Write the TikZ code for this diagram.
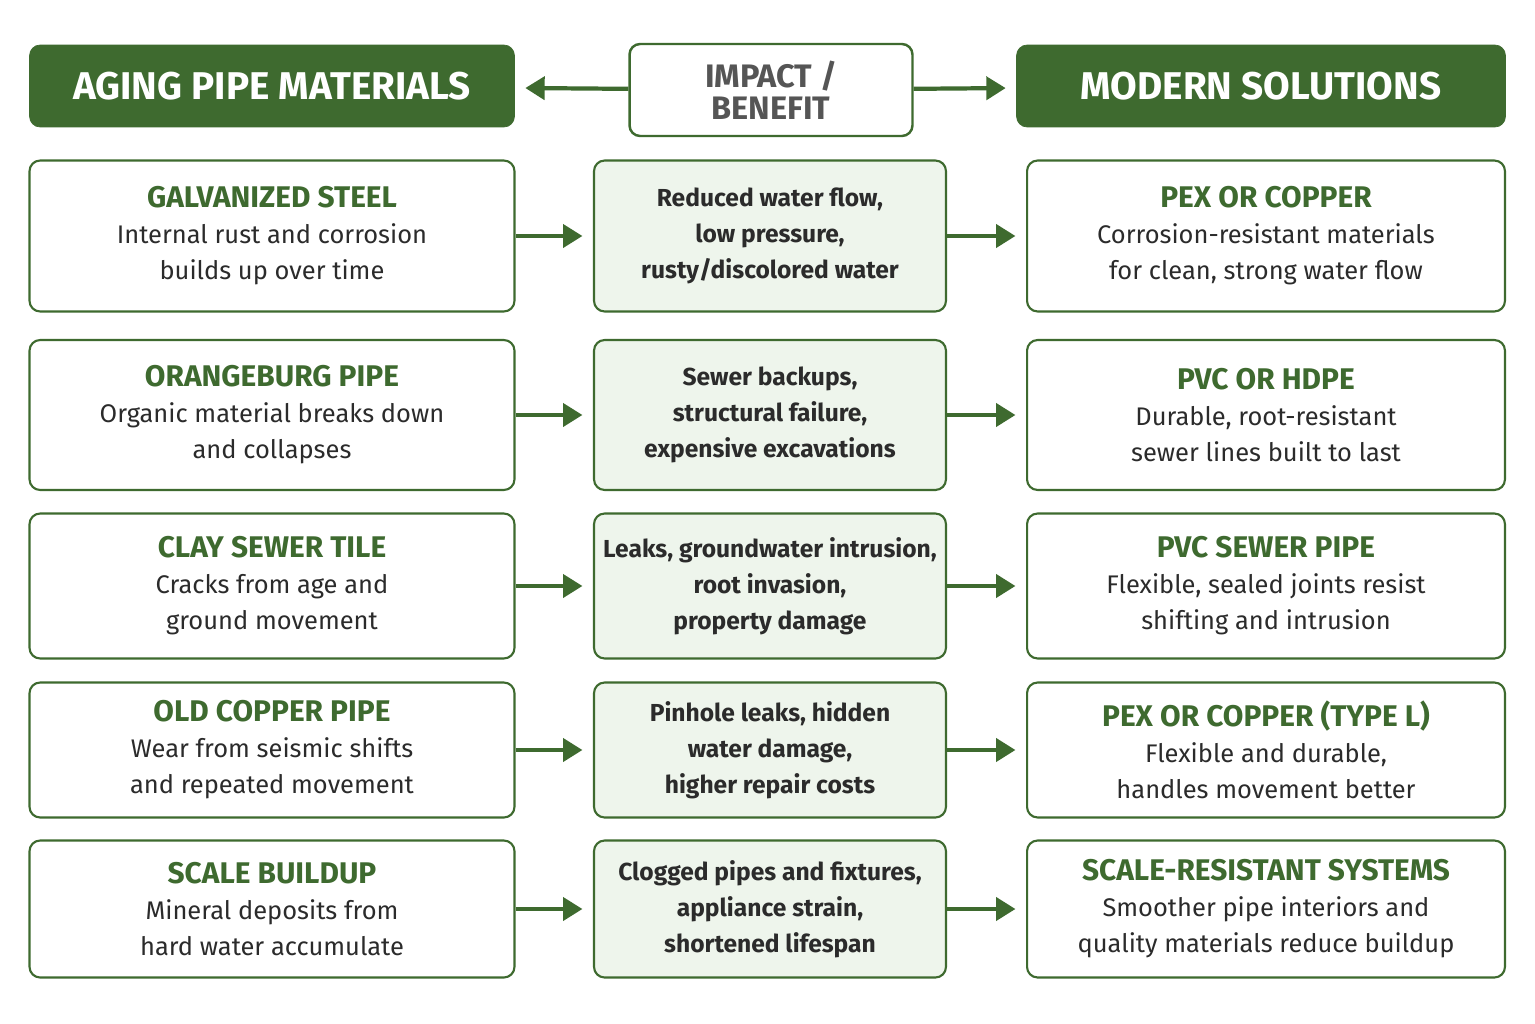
\documentclass[tikz,border=0pt]{standalone}
\usepackage{fontspec}
\setmainfont{Fira Sans}
\usetikzlibrary{arrows.meta}
\definecolor{pipegreen}{HTML}{3E6A2F}
\definecolor{palegreen}{HTML}{EEF5EC}
\definecolor{bodygray}{HTML}{2B2B2B}
\tikzset{
  header/.style={rectangle, rounded corners=6pt, fill=pipegreen, draw=pipegreen, text=white, font=\bfseries\fontsize{22}{24}\selectfont, minimum height=1.64cm},
  midheader/.style={rectangle, rounded corners=6pt, fill=white, draw=pipegreen, line width=1.4pt, text=bodygray!80, font=\bfseries\fontsize{18.5}{18}\selectfont, align=center, minimum width=5.66cm, minimum height=1.84cm},
  oldbox/.style={rectangle, rounded corners=6pt, draw=pipegreen, line width=1.2pt, fill=white, align=center, minimum width=9.7cm, text=bodygray, font=\fontsize{14.5}{20.5}\selectfont},
  midbox/.style={rectangle, rounded corners=6pt, draw=pipegreen, line width=1.2pt, fill=palegreen, align=center, minimum width=7.04cm, inner xsep=2pt, text=bodygray, font=\bfseries\fontsize{14}{20.5}\selectfont},
  newbox/.style={oldbox, minimum width=9.56cm},
  arrow/.style={line width=2.4pt, draw=pipegreen, shorten >=6pt, -{Triangle[length=11pt,width=13pt]}}
}
\newcommand{\ttl}[1]{{\color{pipegreen}\bfseries\fontsize{17}{21}\selectfont #1}}
\begin{document}
\begin{tikzpicture}[x=0.02cm,y=-0.02cm]
  \useasboundingbox[fill=white] (0,0) rectangle (1535,1024);
  % headers
  \node (aging) [header, minimum width=9.7cm] at (272,86) {AGING PIPE MATERIALS};
  \node (impact) [midheader] at (771,90) {IMPACT /\\BENEFIT};
  \node (modern) [header, minimum width=9.78cm] at (1261,86) {MODERN SOLUTIONS};
  \draw [arrow] (impact) -- (aging);
  \draw [arrow] (impact) -- (modern);
  % row 1
  \node (old1) [oldbox, minimum height=3.02cm] at (272,236) {\ttl{GALVANIZED STEEL}\\Internal rust and corrosion\\builds up over time};
  \node (mid1) [midbox, minimum height=3.02cm] at (770,236) {Reduced water flow,\\low pressure,\\rusty/discolored water};
  \node (new1) [newbox, minimum height=3.02cm] at (1266,236) {\ttl{PEX OR COPPER}\\Corrosion-resistant materials\\for clean, strong water flow};
  % row 2
  \node (old2) [oldbox, minimum height=3.0cm] at (272,415) {\ttl{ORANGEBURG PIPE}\\Organic material breaks down\\and collapses};
  \node (mid2) [midbox, minimum height=3.0cm] at (770,415) {Sewer backups,\\structural failure,\\expensive excavations};
  \node (new2) [newbox, minimum height=3.0cm] at (1266,415) {\ttl{PVC OR HDPE}\\Durable, root-resistant\\sewer lines built to last};
  % row 3
  \node (old3) [oldbox, minimum height=2.9cm] at (272,586) {\ttl{CLAY SEWER TILE}\\Cracks from age and\\ground movement};
  \node (mid3) [midbox, minimum height=2.9cm] at (770,586) {Leaks, groundwater intrusion,\\root invasion,\\property damage};
  \node (new3) [newbox, minimum height=2.9cm] at (1266,586) {\ttl{PVC SEWER PIPE}\\Flexible, sealed joints resist\\shifting and intrusion};
  % row 4
  \node (old4) [oldbox, minimum height=2.7cm] at (272,750) {\ttl{OLD COPPER PIPE}\\Wear from seismic shifts\\and repeated movement};
  \node (mid4) [midbox, minimum height=2.7cm] at (770,750) {Pinhole leaks, hidden\\water damage,\\higher repair costs};
  \node (new4) [newbox, minimum height=2.7cm] at (1266,750) {\ttl{PEX OR COPPER (TYPE L)}\\Flexible and durable,\\handles movement better};
  % row 5
  \node (old5) [oldbox, minimum height=2.74cm] at (272,909) {\ttl{SCALE BUILDUP}\\Mineral deposits from\\hard water accumulate};
  \node (mid5) [midbox, minimum height=2.74cm] at (770,909) {Clogged pipes and fixtures,\\appliance strain,\\shortened lifespan};
  \node (new5) [newbox, minimum height=2.74cm] at (1266,909) {\ttl{SCALE-RESISTANT SYSTEMS}\\Smoother pipe interiors and\\quality materials reduce buildup};
  \foreach \i in {1,...,5}{
    \draw [arrow] (old\i) -- (mid\i);
    \draw [arrow] (mid\i) -- (new\i);
  }
\end{tikzpicture}
\end{document}
